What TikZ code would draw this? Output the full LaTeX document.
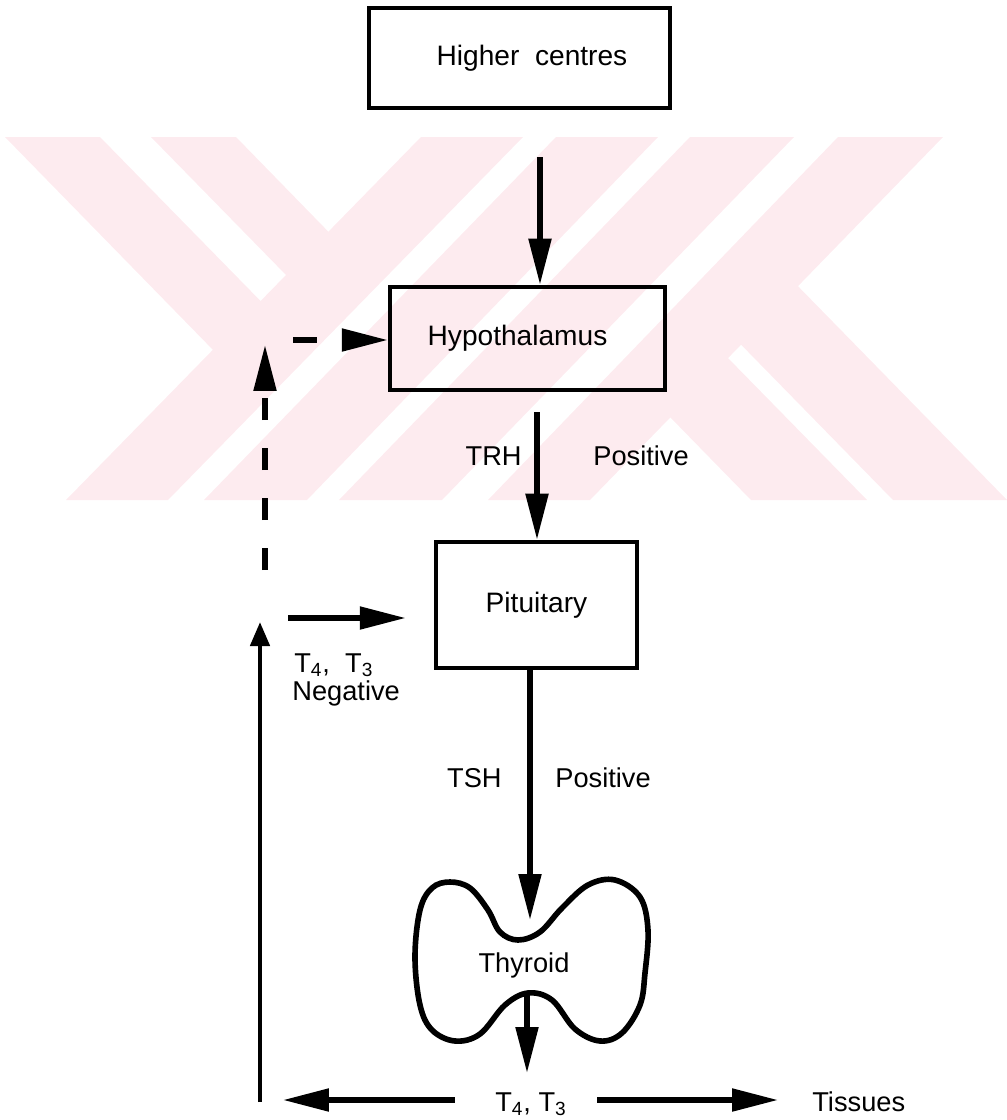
\documentclass[tikz,border=0pt]{standalone}
\usepackage{fontspec}
\setmainfont{Liberation Sans}
\usetikzlibrary{arrows.meta,positioning}
\definecolor{watermarkpink}{RGB}{253,235,239}

\begin{document}
\begin{tikzpicture}[x=0.02cm,y=-0.02cm,
    organ/.style={draw, line width=2.6pt, inner sep=0pt, font=\fontsize{16}{19}\selectfont},
    lbl/.style={inner sep=0pt, font=\fontsize{15.5}{18}\selectfont},
    feed/.style={line width=3pt, -{Triangle[length=0.92cm,width=0.44cm]}},
    smallfeed/.style={line width=2.6pt, -{Triangle[length=0.48cm,width=0.38cm]}}]
\useasboundingbox (0,0) rectangle (1007,1120);
\fill[watermarkpink] (421,137) -- (523,137) -- (168,500) -- (66,500) -- cycle;
\fill[watermarkpink] (556,137) -- (658,137) -- (307,500) -- (204,500) -- cycle;
\fill[watermarkpink] (690,137) -- (794,137) -- (442,500) -- (339,500) -- cycle;
\fill[watermarkpink] (838,137) -- (943,137) -- (590,500) -- (488,500) -- cycle;
\fill[watermarkpink] (5,137) -- (100,137) -- (286,327) -- (238.5,376) -- cycle;
\fill[watermarkpink] (151,137) -- (236,137) -- (354,258) -- (311.5,301) -- cycle;
\fill[watermarkpink] (751,500) -- (867,500) -- (702,331.5) -- (644.6,391) -- cycle;
\fill[watermarkpink] (893,500) -- (1007,500) -- (772,259.6) -- (715,318) -- cycle;

\node[organ, minimum width=6.02cm, minimum height=2cm] (higher) at (519.5,58) {\hspace*{0.5cm}Higher\ \ centres};
\node[organ, minimum width=5.5cm, minimum height=2.06cm] (hypo) at (527.5,338.5) {Hypothalamus\hspace*{0.4cm}};
\node[organ, minimum width=4.02cm, minimum height=2.52cm] (pit) at (536.5,605) {Pituitary};
\draw[line width=3.2pt] plot[smooth cycle, tension=0.6] coordinates {(518,940) (500,932) (488,910)
    (470,888) (450,882) (432,888) (420,910) (415,957) (420,1005) (432,1030) (455,1041) (480,1034)
    (505,1005) (528,993) (552,1000) (575,1029) (600,1041) (622,1033) (640,1005) (645,973) (648,930)
    (640,897) (615,880) (588,885) (562,908) (540,932)};
\node[lbl, anchor=base] (thyroid) at (524,972) {Thyroid};

\node[lbl, anchor=base east] (trh) at (522,465) {TRH};
\node[lbl, anchor=base west] (trhpos) at (593,465) {Positive};
\node[lbl, anchor=base east] (tsh) at (502,787) {TSH};
\node[lbl, anchor=base west] (tshpos) at (555,787) {Positive};
\node[lbl, anchor=base west] (hormones) at (294,672) {T\textsubscript{4},\ \ T\textsubscript{3}};
\node[lbl, anchor=base west] (negative) at (292,700) {Negative};
\node[lbl, anchor=base] (output) at (531,1111) {T\textsubscript{4},\ T\textsubscript{3}};
\node[lbl, anchor=base west] (tissues) at (812,1111) {Tissues};

\coordinate (higherout) at (540,157);
\coordinate (trhout) at (537,412);
\coordinate (thyroidin) at (530,920);
\coordinate (thyroidout) at (527,995);
\coordinate (outputin) at (527,1073);
\coordinate (loopbottom) at (260,1102);
\coordinate (looptop) at (260,622);
\coordinate (dashbottom) at (265,570);
\coordinate (dashtop) at (265,345);
\coordinate (dashin) at (293,340);
\coordinate (negin) at (288,618);

\draw[feed] (higherout) -- (higherout |- hypo.north);
\draw[feed] (trhout) -- (trhout |- pit.north);
\draw[feed] (thyroidin |- pit.south) -- (thyroidin);
\draw[feed] (thyroidout) -- (outputin);
\draw[feed, shorten <=0.8cm] (output.west |- 0,1100) -- (283,1100);
\draw[feed, shorten <=0.6cm, shorten >=0.68cm] (output.east |- 0,1100) -- (tissues.west |- 0,1100);
\draw[smallfeed] (loopbottom) -- (looptop);
\draw[feed, shorten >=0.56cm] (negin) -- (negin -| pit.west);
\draw[feed, dash pattern=on 0.44cm off 0.56cm] (dashbottom) -- (dashtop);
\draw[feed, dash pattern=on 0.48cm off 0.52cm] (dashin) -- (dashin -| hypo.west);
\end{tikzpicture}
\end{document}
